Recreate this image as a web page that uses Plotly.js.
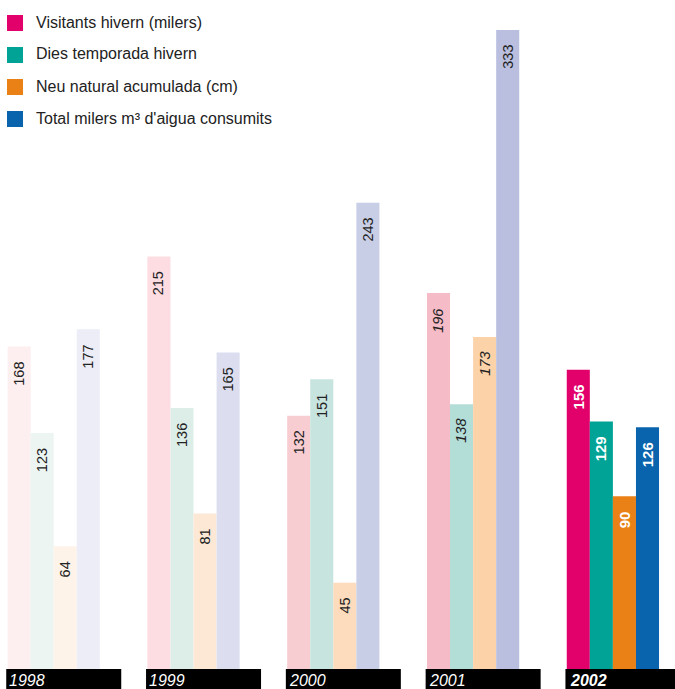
<!DOCTYPE html>
<html>
<head>
<meta charset="utf-8">
<script src="https://cdn.plot.ly/plotly-3.0.1.min.js"></script>
<style>html,body{margin:0;padding:0;background:#fff}#chart{width:675px;height:689px}</style>
</head>
<body>
<div id="chart"></div>
<script>
// ---- data ----
const years = [1998, 1999, 2000, 2001, 2002];
const seriesNames = ["Visitants hivern (milers)", "Dies temporada hivern", "Neu natural acumulada (cm)", "Total milers m³ d'aigua consumits"];
const visitants = [168, 215, 132, 196, 156];
const dies = [123, 136, 151, 138, 129];
const neu = [64, 81, 45, 173, 90];
const aigua = [177, 165, 243, 333, 126];
const yearLabels = ["1998", "1999", "2000", "2001", "2002"];

// ---- styles ----
const seriesValues = [visitants, dies, neu, aigua];
const colors = [
  ["#FDEEEF", "#FDDDE2", "#F7CDD2", "#F5BBC6", "#E2006A"],
  ["#EDF5F2", "#DDEEE9", "#C8E4DF", "#B3DDD7", "#00A396"],
  ["#FEF3E9", "#FDE8D6", "#FCDCBD", "#FCD2A8", "#EA8117"],
  ["#EDEDF7", "#DCDEF0", "#C9CEE7", "#BABFE0", "#0A64AD"]
];
const legendColors = colors.map(c => c[4]);
const italicLabels = [[false,false,false,true,false],[false,false,false,true,false],[false,false,false,true,false],[false,false,false,false,false]];

const W = 675, H = 689, mT = 30, mB = 20;
const plotH = H - mT - mB;
const pxPerYear = 139.8;
const x0 = 1998 - 53.7 / pxPerYear;
const x1 = x0 + W / pxPerYear;
const barW = 23.08 / pxPerYear;
const FONT = "Liberation Sans, Arial, sans-serif";

const traces = seriesValues.map((vals, i) => ({
  type: "bar",
  x: years,
  y: vals,
  name: seriesNames[i],
  marker: { color: colors[i], line: { width: 0 } },
  hoverinfo: "none",
  showlegend: false
}));

const annotations = [];
const shapes = [];

// value labels
seriesValues.forEach((vals, i) => {
  vals.forEach((v, j) => {
    const last = j === years.length - 1;
    annotations.push({
      xref: "x", yref: "y",
      x: years[j] + (i - 1.5) * barW, y: v,
      text: String(v), textangle: -90,
      showarrow: false, xanchor: "center", yanchor: "top", yshift: -13,
      font: { family: FONT, size: last ? 15 : 14.5, color: last ? "#ffffff" : "#222222",
              weight: last ? "bold" : "normal",
              style: italicLabels[i][j] ? "italic" : "normal" }
    });
  });
});

// year bands
years.forEach((yr, j) => {
  const last = j === years.length - 1;
  const bx0 = yr - 2 * barW - 1.3 / pxPerYear;
  const bx1 = last ? x1 + 0.05 : bx0 + 115 / pxPerYear;
  shapes.push({ type: "rect", xref: "x", yref: "paper", x0: bx0, x1: bx1,
    y0: -mB / plotH, y1: 0, fillcolor: "#000000", line: { width: 0 }, layer: "above" });
  annotations.push({
    xref: "x", yref: "paper", x: bx0 + (last ? 4 : 2) / pxPerYear, y: -11 / plotH,
    text: yearLabels[j], showarrow: false, xanchor: "left", yanchor: "middle",
    borderpad: 0,
    font: { family: FONT, size: 16, color: "#ffffff", style: "italic",
            weight: last ? "bold" : "normal" }
  });
});

// legend
const toPaperY = py => (H - mB - py) / plotH;
seriesNames.forEach((nm, i) => {
  const top = 15 + 32 * i;
  shapes.push({ type: "rect", xref: "paper", yref: "paper", x0: 7 / W, x1: 23 / W,
    y0: toPaperY(top + 16), y1: toPaperY(top), fillcolor: legendColors[i], line: { width: 0 } });
  annotations.push({ xref: "paper", yref: "paper", x: 34 / W, y: toPaperY(top + 7),
    text: nm, showarrow: false, xanchor: "left", yanchor: "middle",
    font: { family: FONT, size: 16, color: "#222222" } });
});

const layout = {
  width: W, height: H,
  margin: { l: 0, r: 0, t: mT, b: mB, pad: 0 },
  paper_bgcolor: "#ffffff", plot_bgcolor: "#ffffff",
  barmode: "group", bargap: 0.34, bargroupgap: 0,
  xaxis: { range: [x0, x1], visible: false, fixedrange: true },
  yaxis: { range: [0, 333], visible: false, fixedrange: true },
  showlegend: false,
  shapes: shapes,
  annotations: annotations
};

Plotly.newPlot("chart", traces, layout, { displayModeBar: false, staticPlot: true });
</script>
</body>
</html>
